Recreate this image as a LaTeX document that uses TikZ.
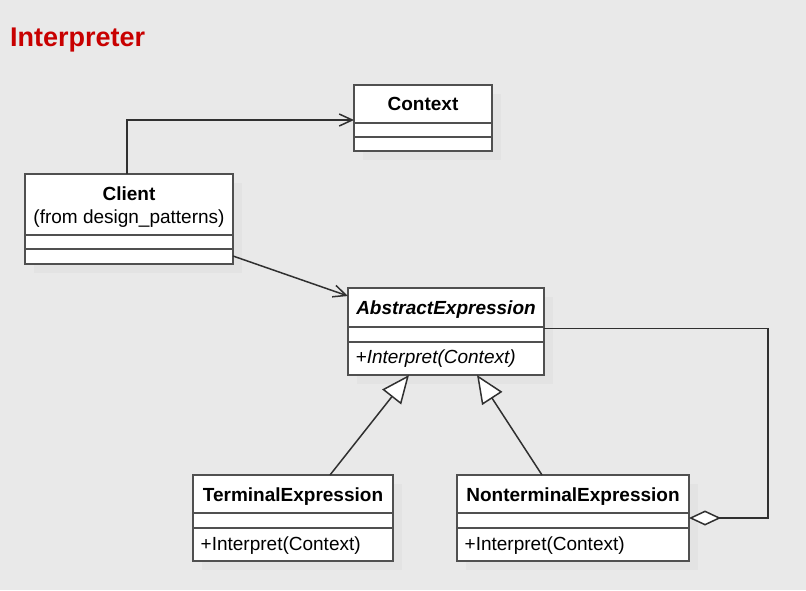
\documentclass[tikz,border=0pt]{standalone}
\usepackage{fontspec}
\setmainfont{Liberation Sans}
\usetikzlibrary{arrows.meta,shadows}
\definecolor{bgc}{HTML}{E9E9E9}
\definecolor{shc}{HTML}{E3E3E3}
\definecolor{brd}{HTML}{505050}
\definecolor{lnc}{HTML}{303030}
\definecolor{ttl}{HTML}{C80000}
\begin{document}
\begin{tikzpicture}[x=1pt,y=-1pt,
  cls/.style={draw=brd, line width=1.6pt, fill=white, rectangle, inner sep=0pt, outer sep=0pt,
    anchor=north west, drop shadow={shadow xshift=9pt, shadow yshift=-9pt, fill=shc, opacity=1}},
  divl/.style={draw=brd, line width=1.6pt},
  ctitle/.style={inner sep=0pt, anchor=base, font=\fontsize{19}{22}\selectfont\bfseries},
  csub/.style={inner sep=0pt, anchor=base, font=\fontsize{19}{22}\selectfont},
  meth/.style={inner sep=0pt, anchor=base west, font=\fontsize{19}{22}\selectfont},
  assoc/.style={draw=lnc, line width=1.5pt, -{Straight Barb[length=13pt,width=12pt]}},
  gen/.style={draw=lnc, line width=1.5pt, -{Triangle[fill=white,length=28pt,width=24pt]}},
  agg/.style={draw=lnc, line width=1.5pt, {Diamond[fill=white,length=32pt,width=15pt]}-}]
\fill[bgc] (0,0) rectangle (806,590);
\useasboundingbox (0,0) rectangle (806,590);

\node[inner sep=0pt, anchor=base west, text=ttl, font=\fontsize{27}{31}\selectfont\bfseries] (title) at (10,46) {Interpreter};

% Context
\node[cls, minimum width=138pt, minimum height=66pt] (ctx) at (354,85) {};
\draw[divl] (ctx.west |- 0,123) -- (ctx.east |- 0,123);
\draw[divl] (ctx.west |- 0,137) -- (ctx.east |- 0,137);
\node[ctitle] (ctxt) at (423,110.7) {Context};

% Client
\node[cls, minimum width=208pt, minimum height=90pt] (cli) at (25,174) {};
\draw[divl] (cli.west |- 0,235) -- (cli.east |- 0,235);
\draw[divl] (cli.west |- 0,249) -- (cli.east |- 0,249);
\node[ctitle] (clit) at (129,200.5) {Client};
\node[csub] (clis) at (129,223) {(from design\_patterns)};

% AbstractExpression
\node[cls, minimum width=196pt, minimum height=87pt] (abs) at (348,288) {};
\draw[divl] (abs.west |- 0,327) -- (abs.east |- 0,327);
\draw[divl] (abs.west |- 0,342) -- (abs.east |- 0,342);
\node[ctitle, font=\fontsize{19}{22}\selectfont\bfseries\itshape] (abst) at (446,314.3) {AbstractExpression};
\node[meth, font=\fontsize{19}{22}\selectfont\itshape] (absm) at (355.5,363.3) {+Interpret(Context)};

% TerminalExpression
\node[cls, minimum width=200pt, minimum height=86pt] (ter) at (193,475) {};
\draw[divl] (ter.west |- 0,513) -- (ter.east |- 0,513);
\draw[divl] (ter.west |- 0,528) -- (ter.east |- 0,528);
\node[ctitle] (tert) at (293,501) {TerminalExpression};
\node[meth] (term) at (200.5,550) {+Interpret(Context)};

% NonterminalExpression
\node[cls, minimum width=232pt, minimum height=86pt] (non) at (457,475) {};
\draw[divl] (non.west |- 0,513) -- (non.east |- 0,513);
\draw[divl] (non.west |- 0,528) -- (non.east |- 0,528);
\node[ctitle] (nont) at (573,501) {NonterminalExpression};
\node[meth] (nonm) at (464.5,550) {+Interpret(Context)};

% connectors
\draw[assoc] ([xshift=-2pt]cli.north) |- ([yshift=-2pt]ctx.west);
\draw[assoc] ([yshift=8pt]cli.south east) -- ([yshift=-8pt]abs.north west);
\draw[gen] ([xshift=37pt]ter.north) -- ([xshift=-37pt]abs.south);
\draw[gen] ([xshift=-31pt]non.north) -- ([xshift=31pt]abs.south);
\coordinate (ac) at (768,518);
\draw[agg] (non.east) -- (ac) |- ([yshift=3pt]abs.east);
\end{tikzpicture}
\end{document}
